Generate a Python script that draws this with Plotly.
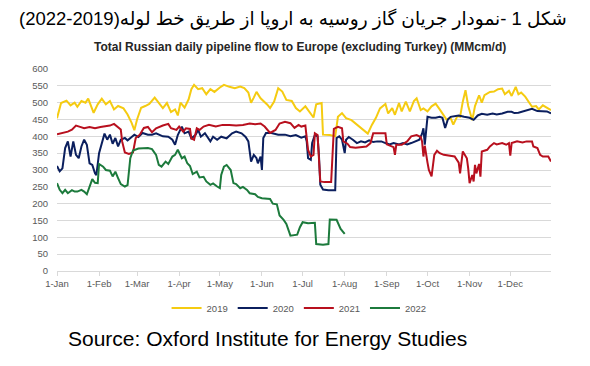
import pandas as pd
import plotly.graph_objects as go

# ---- data: (day of year index, MMcm/d) ----
flow_2019 = [(0,454),(3,499),(7,506),(10,492),(13,500),(15,488),(18,505),(21,500),(23,512),(25,488),
             (27,470),(30,495),(33,512),(36,495),(39,505),(42,480),(45,490),(49,483),(52,465),(55,440),
             (57,418),(59,450),(62,485),(65,490),(68,496),(72,515),(75,498),(78,484),(81,499),(84,472),
             (87,480),(89,462),(91,500),(94,485),(97,510),(99,540),(101,553),(104,540),(107,543),(110,525),
             (113,540),(116,532),(120,545),(123,553),(127,547),(131,543),(135,548),(138,543),(141,530),(143,500),
             (145,515),(147,532),(150,513),(153,503),(155,494),(157,484),(160,503),(163,543),(166,533),(169,508),
             (173,505),(176,484),(179,474),(183,489),(186,474),(189,456),(191,495),(195,499),(196,405),(201,404),
             (205,400),(207,458),(210,469),(213,454),(217,448),(221,434),(225,420),(229,408),(232,434),(235,455),
             (238,483),(242,496),(244,468),(247,484),(249,464),(252,499),(254,474),(257,503),(260,474),(263,505),
             (265,513),(268,478),(270,483),(273,474),(276,489),(279,497),(282,480),(284,469),(287,450),(290,455),
             (292,435),(295,460),(297,458),(299,503),(301,537),(303,490),(306,448),(308,490),(311,522),(313,500),
             (315,522),(319,532),(322,533),(325,540),(328,542),(330,525),(333,535),(335,520),(338,547),(340,525),
             (342,530),(345,518),(347,505),(350,488),(353,490),(355,480),(358,492),(361,485),(364,478)]

flow_2020 = [(0,312),(2,296),(4,305),(6,365),(8,385),(10,340),(12,385),(14,345),(16,335),(18,370),
             (20,390),(22,375),(24,320),(26,315),(28,290),(29,285),(31,350),(33,380),(35,408),(37,390),
             (39,405),(41,378),(43,395),(45,370),(47,390),(50,395),(52,388),(55,398),(57,405),(60,398),
             (63,410),(67,405),(70,405),(73,409),(78,400),(82,399),(85,390),(87,375),(89,404),(92,429),
             (94,409),(97,414),(99,394),(102,404),(104,419),(106,399),(109,409),(113,385),(115,399),(118,390),
             (121,399),(125,394),(129,409),(132,414),(136,409),(139,398),(141,385),(143,325),(145,345),(147,335),
             (148,320),(150,340),(151,300),(152,395),(154,410),(158,410),(163,405),(168,405),(172,400),(176,404),
             (180,396),(183,400),(184,385),(185,335),(187,330),(188,380),(190,404),(192,400),(193,345),(194,256),
             (196,242),(200,240),(205,240),(206,395),(208,400),(210,390),(212,350),(213,390),(215,398),(218,390),
             (221,380),(224,385),(227,382),(230,388),(233,383),(236,385),(239,385),(242,380),(245,376),(248,380),
             (252,376),(255,380),(258,376),(261,380),(264,385),(267,390),(269,408),(270,424),(271,375),(273,458),
             (276,455),(279,455),(282,458),(284,455),(286,425),(288,450),(290,458),(293,460),(296,462),(300,458),
             (304,455),(307,449),(310,462),(313,467),(317,464),(321,468),(324,465),(328,468),(332,473),(335,473),
             (337,469),(340,470),(344,474),(348,478),(350,482),(354,475),(358,474),(361,474),(364,468)]

flow_2021 = [(0,406),(4,410),(8,414),(11,420),(14,432),(17,428),(20,424),(24,428),(28,424),(32,428),
             (35,430),(39,432),(42,437),(45,426),(47,420),(48,385),(50,352),(53,348),(56,352),(58,395),
             (61,405),(64,425),(67,428),(70,412),(73,424),(78,432),(82,437),(84,424),(88,419),(90,429),
             (93,414),(95,424),(98,422),(99,394),(101,390),(103,424),(105,419),(108,429),(112,434),(117,429),
             (122,434),(127,434),(132,432),(137,434),(142,438),(146,436),(150,438),(153,429),(157,410),(161,419),
             (164,438),(168,443),(172,439),(175,425),(178,434),(180,429),(183,432),(185,360),(187,340),(189,345),
             (190,409),(192,404),(194,266),(197,264),(200,264),(202,264),(204,422),(207,428),(210,424),(211,385),
             (214,378),(216,368),(220,366),(224,368),(228,370),(231,380),(233,409),(238,409),(242,409),(243,376),
             (246,372),(248,368),(249,345),(250,375),(254,375),(258,385),(261,400),(265,404),(268,398),(269,385),
             (270,340),(271,372),(273,322),(274,300),(276,281),(278,345),(280,357),(282,350),(285,345),(289,342),
             (293,340),(296,322),(297,290),(299,355),(302,335),(303,305),(304,261),(306,285),(307,266),(308,315),
             (309,290),(311,318),(312,280),(313,355),(317,360),(319,370),(322,380),(324,376),(328,380),(331,375),
             (333,380),(334,343),(335,380),(339,385),(343,382),(346,385),(350,385),(351,370),(354,365),(356,345),
             (358,340),(360,340),(362,340),(364,325)]

flow_2022 = [(0,261),(2,241),(4,231),(6,241),(8,231),(11,240),(13,236),(15,236),(18,241),(20,236),
             (22,228),(24,250),(26,273),(28,262),(30,261),(31,318),(34,310),(36,300),(39,298),(41,281),
             (43,295),(45,276),(47,258),(50,251),(52,255),(54,335),(56,358),(60,364),(63,365),(67,365),
             (70,362),(73,345),(75,315),(77,310),(80,325),(82,318),(85,340),(87,345),(89,360),(92,335),
             (94,340),(96,320),(98,312),(100,288),(103,295),(105,278),(108,280),(110,266),(113,256),(115,260),
             (118,251),(120,246),(121,285),(123,310),(125,315),(128,300),(130,261),(132,258),(135,246),(137,250),
             (140,241),(142,231),(146,228),(148,220),(151,216),(154,216),(157,214),(159,200),(162,198),(164,165),
             (167,152),(169,140),(172,105),(177,108),(179,130),(181,145),(185,142),(190,143),(191,80),(196,78),
             (200,80),(201,153),(206,152),(209,125),(212,110)]

series_names = ["2019", "2020", "2021", "2022"]
series_data = [flow_2019, flow_2020, flow_2021, flow_2022]
series_colors = ["#F5CB11", "#0B1F5E", "#B8101E", "#1C7A3C"]

month_start = "2019-01-01"
persian_title = "\u200fشکل 1 -نمودار جریان گاز روسیه به اروپا از طریق خط لوله(2019-2022)\u200f"
chart_title = "<b>Total Russian daily pipeline flow to Europe (excluding Turkey) (MMcm/d)</b>"
source_text = "Source: Oxford Institute for Energy Studies"

W, H = 590, 366
ML, MR, MT, MB = 57, 39, 69, 95
PW, PH = W - ML - MR, H - MT - MB


def px_x(px):
    return (px - ML) / PW


def px_y(py):
    return (H - MB - py) / PH


fig = go.Figure()
base = pd.Timestamp(month_start)
for name, data, color in zip(series_names, series_data, series_colors):
    days = [d for d, _ in data]
    vals = [v for _, v in data]
    dates = [base + pd.Timedelta(days=d) for d in days]
    fig.add_trace(go.Scatter(x=dates, y=vals, mode="lines", name=name,
                             line=dict(color=color, width=2)))

fig.update_layout(
    width=W, height=H,
    margin=dict(l=ML, r=MR, t=MT, b=MB, autoexpand=False),
    paper_bgcolor="white", plot_bgcolor="white",
    font=dict(family="Liberation Sans, Arial, DejaVu Sans", color="#595959", size=9.5),
    showlegend=True,
    legend=dict(orientation="h", x=0.49, xanchor="center", y=px_y(308), yanchor="middle",
                font=dict(size=9.5, color="#595959"), bgcolor="rgba(0,0,0,0)",
                itemwidth=30, tracegroupgap=0),
    xaxis=dict(type="date", range=["2019-01-01", "2019-12-31"], dtick="M1", tick0=month_start,
               tickformat="%-d-%b", showgrid=False, showline=True, linecolor="#d9d9d9", linewidth=1,
               ticks="outside", ticklen=4, tickcolor="#d9d9d9",
               tickfont=dict(size=9.5, color="#595959")),
    yaxis=dict(range=[0, 600], dtick=50, tick0=0, showgrid=True, gridcolor="#d9d9d9", gridwidth=1,
               zeroline=False, showline=False, ticks="", ticklabelstandoff=8,
               tickfont=dict(size=9.5, color="#595959")),
)

fig.add_annotation(text=persian_title, xref="paper", yref="paper", x=px_x(293), y=px_y(19),
                   xanchor="center", yanchor="middle", showarrow=False,
                   font=dict(family="Liberation Sans, Arial, DejaVu Sans", size=18.5, color="#000000"))
fig.add_annotation(text=chart_title, xref="paper", yref="paper", x=px_x(300), y=px_y(47),
                   xanchor="center", yanchor="middle", showarrow=False,
                   font=dict(family="Liberation Sans, Arial", size=12, color="#262626"))
fig.add_annotation(text=source_text, xref="paper", yref="paper", x=px_x(66), y=px_y(338),
                   xanchor="left", yanchor="middle", showarrow=False,
                   font=dict(family="Liberation Sans, Arial", size=21, color="#000000"))

fig.write_html("out.html", config={"displayModeBar": False},
               post_script="document.body.style.margin='0';")
